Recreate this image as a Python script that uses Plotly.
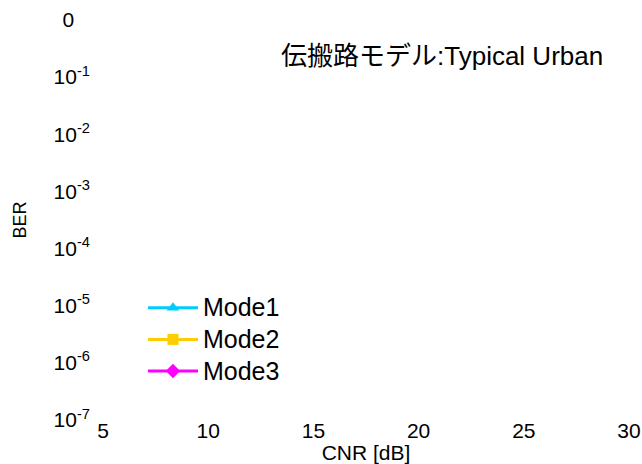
import plotly.graph_objects as go

# Series data: the reference shows no visible curve points, only legend entries
mode1_cnr = [None]
mode1_ber = [None]
mode2_cnr = [None]
mode2_ber = [None]
mode3_cnr = [None]
mode3_ber = [None]

series_names = ["Mode1", "Mode2", "Mode3"]
series_colors = ["#00CCFF", "#FFCC00", "#FF00FF"]
series_symbols = ["triangle-up", "square", "diamond"]

x_tick_vals = [5, 10, 15, 20, 25, 30]
y_tick_vals = [1e-7, 1e-6, 1e-5, 1e-4, 1e-3, 1e-2, 1e-1, 1]
y_tick_text = ["10<sup>-7</sup>", "10<sup>-6</sup>", "10<sup>-5</sup>", "10<sup>-4</sup>",
               "10<sup>-3</sup>", "10<sup>-2</sup>", "10<sup>-1</sup>", "0\u00a0\u00a0\u2009"]

title_text = "伝搬路モデル:Typical Urban"
x_title = "CNR [dB]"
y_title = "BER"

FONT = "Liberation Sans, Arial, Noto Sans CJK JP, sans-serif"

fig = go.Figure()
for name, xs, ys, col, sym in zip(series_names,
                                  [mode1_cnr, mode2_cnr, mode3_cnr],
                                  [mode1_ber, mode2_ber, mode3_ber],
                                  series_colors, series_symbols):
    fig.add_trace(go.Scatter(x=xs, y=ys, name=f"<span style='font-size:25px'>{name}</span>",
                             mode="lines+markers",
                             line=dict(color=col, width=3),
                             marker=dict(symbol=sym, size=11, color=col)))

fig.update_layout(
    width=642, height=464,
    margin=dict(l=103, r=13, t=20, b=44),
    paper_bgcolor="white", plot_bgcolor="white",
    font=dict(family=FONT, size=21, color="black"),
    showlegend=True,
    legend=dict(x=0.076, y=0.3325, xanchor="left", yanchor="top",
                bgcolor="rgba(0,0,0,0)", font=dict(size=22, family=FONT),
                tracegroupgap=0, itemwidth=50),
    annotations=[dict(text=title_text,
                      x=0.644, y=0.91, xref="paper", yref="paper",
                      xanchor="center", yanchor="middle",
                      showarrow=False, font=dict(size=26, family=FONT, color="black"))],
)
fig.update_xaxes(range=[5, 30], tickvals=x_tick_vals, showgrid=False, zeroline=False,
                 showline=False, ticks="", automargin=False, ticklabelstandoff=-4,
                 title=dict(text=x_title + "\u00a0\u2009", font=dict(size=21), standoff=0))
fig.update_yaxes(type="log", range=[-7, 0], tickvals=y_tick_vals, ticktext=y_tick_text,
                 showgrid=False, zeroline=False, showline=False, ticks="", automargin=False,
                 ticklabelstandoff=12,
                 title=dict(text="\u00a0\u00a0" + y_title, font=dict(size=18), standoff=22))

fig.write_html("out.html")
